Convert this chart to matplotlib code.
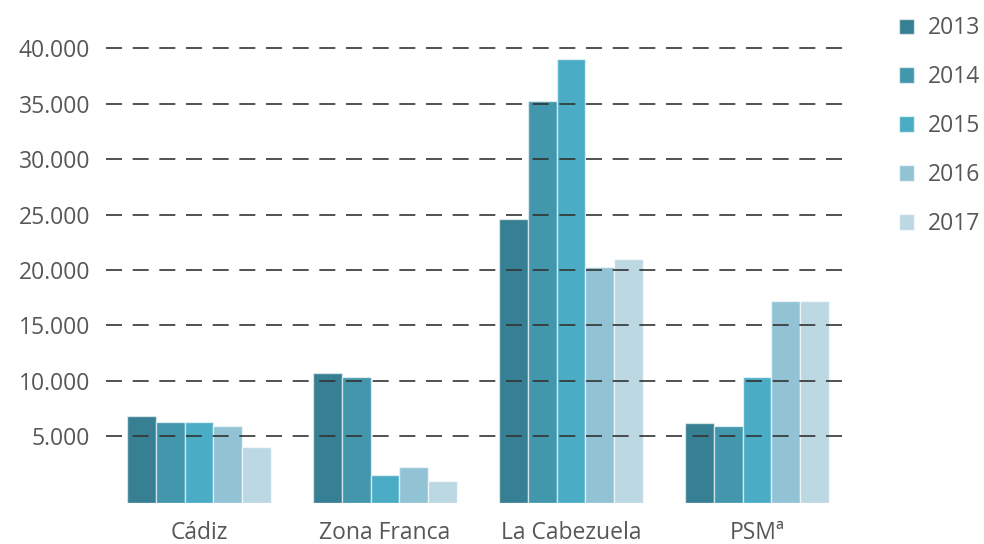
import numpy as np
import matplotlib.pyplot as plt
from matplotlib.patches import Patch
from matplotlib.ticker import FuncFormatter

plt.rcParams['font.family'] = ['Open Sans', 'DejaVu Sans']

categories = ['Cádiz', 'Zona Franca', 'La Cabezuela', 'PSMª']
years = ['2013', '2014', '2015', '2016', '2017']
v2013 = [6840, 10720, 24580, 6150]
v2014 = [6300, 10360, 35250, 5940]
v2015 = [6300, 1490, 38990, 10360]
v2016 = [5900, 2200, 20280, 17180]
v2017 = [4040, 950, 21030, 17180]
series = [v2013, v2014, v2015, v2016, v2017]
colors = ['#377f92', '#4397ad', '#4aacc5', '#92c3d4', '#bcd8e3']
yticks = [5000, 10000, 15000, 20000, 25000, 30000, 35000, 40000]

fig = plt.figure(figsize=(9.84, 5.44), dpi=100)
ax = fig.add_axes([0.1077, 0.076, 0.7561, 0.876])

base = -1000
x = np.arange(len(categories))
w = 0.154
for i, (vals, c) in enumerate(zip(series, colors)):
    vals = np.array(vals)
    ax.bar(x + (i - 2) * w, vals - base, w, bottom=base, color=c,
           edgecolor=(1, 1, 1, 0.6), linewidth=1, zorder=1)

ax.set_xlim(-0.5, 3.5)
ax.set_ylim(base, 42000)
ax.set_yticks(yticks)
ax.yaxis.set_major_formatter(FuncFormatter(lambda v, p: f'{int(v):,}'.replace(',', '.')))
ax.set_xticks(x)
ax.set_xticklabels(categories)
for yv in yticks:
    ax.axhline(yv, color='#333333', lw=1.2, dashes=(9.6, 6.4), zorder=3)
for s in ax.spines.values():
    s.set_visible(False)
ax.tick_params(length=0, labelsize=16.5, labelcolor='#575757')
ax.tick_params(axis='y', pad=11.5)
ax.tick_params(axis='x', pad=13)

handles = [Patch(facecolor=c, edgecolor=(1, 1, 1, 0.6)) for c in colors]
fig.legend(handles, years, loc='upper left', bbox_to_anchor=(0.893, 1.008),
           frameon=False, fontsize=16.5, labelcolor='#575757',
           handlelength=0.66, handleheight=0.66, handletextpad=0.6,
           labelspacing=1.09)

fig.savefig('out.png', dpi=100)
